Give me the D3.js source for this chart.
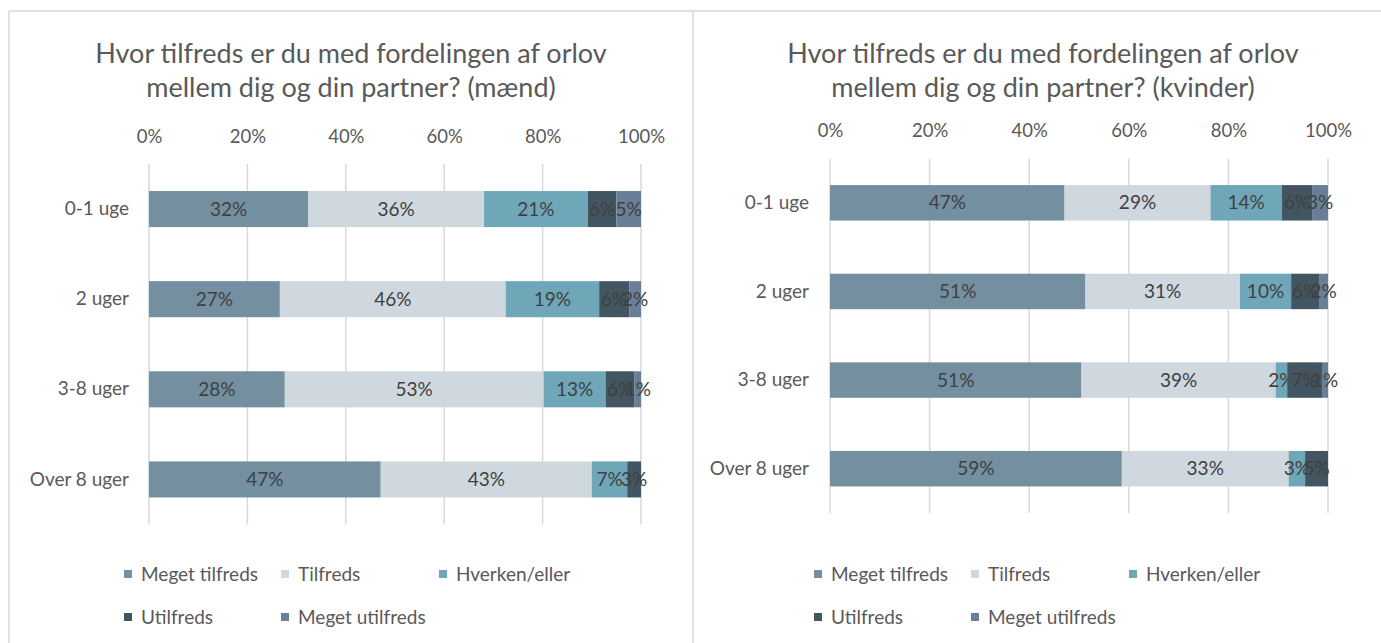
<!DOCTYPE html>
<html>
<head>
<meta charset="utf-8">
<script src="https://cdn.jsdelivr.net/npm/d3@7"></script>
<style>
  body { margin: 0; background: #fff; }
  svg text { font-family: Lato, "Open Sans", sans-serif; }
</style>
</head>
<body>
<div class="chart"></div>
<script>
/* chart data */
const categories = ["0-1 uge", "2 uger", "3-8 uger", "Over 8 uger"];
const seriesNames = ["Meget tilfreds", "Tilfreds", "Hverken/eller", "Utilfreds", "Meget utilfreds"];
const seriesColors = ["#738fa0", "#d0d8df", "#6fa7b9", "#425561", "#687f97"];
const tickValues = [0, 20, 40, 60, 80, 100];
const tickLabels = ["0%", "20%", "40%", "60%", "80%", "100%"];

// one row per category, one value per series (percent)
const menValues = [
  [32.4, 35.7, 21.1, 5.8, 5.0],
  [26.6, 45.9, 19.0, 6.1, 2.4],
  [27.6, 52.6, 12.6, 5.9, 1.3],
  [47.1, 42.9, 7.2, 2.8, 0]
];
const womenValues = [
  [47.1, 29.3, 14.3, 6.1, 3.2],
  [51.3, 31.0, 10.3, 5.6, 1.8],
  [50.5, 39.0, 2.3, 7.0, 1.2],
  [58.6, 33.5, 3.3, 4.6, 0]
];
const menTitle = ["Hvor tilfreds er du med fordelingen af orlov", "mellem dig og din partner? (mænd)"];
const womenTitle = ["Hvor tilfreds er du med fordelingen af orlov", "mellem dig og din partner? (kvinder)"];

const W = 1381, H = 643;

const svg = d3.select(".chart")
  .append("svg")
  .attr("width", W)
  .attr("height", H);

/* panel frames */
const frame = "#d9d9d9";
svg.append("line").attr("x1", 9).attr("x2", W).attr("y1", 11).attr("y2", 11)
  .attr("stroke", frame).attr("stroke-width", 1.5);
svg.append("line").attr("x1", 9).attr("x2", 9).attr("y1", 11).attr("y2", H)
  .attr("stroke", frame).attr("stroke-width", 1.5);
svg.append("line").attr("x1", 693).attr("x2", 693).attr("y1", 11).attr("y2", H)
  .attr("stroke", frame).attr("stroke-width", 1.5);

const drawPanel = (cfg) => {
  const rows = cfg.values.map((v, i) => {
    const row = { cat: categories[i] };
    seriesNames.forEach((s, j) => row[s] = v[j]);
    return row;
  });
  const stacked = d3.stack().keys(seriesNames)(rows);

  const xScale = d3.scaleLinear().domain([0, 100]).range([cfg.x0, cfg.x1]);
  const yScale = d3.scaleBand().domain(categories).range([cfg.y0, cfg.y1]).paddingInner(0.6).paddingOuter(0.3);

  const g = svg.append("g");

  /* title */
  g.selectAll(".title")
    .data(cfg.title)
    .enter()
    .append("text")
    .attr("x", cfg.titleX)
    .attr("y", (d, i) => cfg.titleY + i * 34)
    .attr("text-anchor", "middle")
    .attr("font-size", "27px")
    .attr("fill", "#595959")
    .text(d => d);

  /* gridlines */
  g.selectAll(".grid")
    .data(tickValues)
    .enter()
    .append("line")
    .attr("x1", d => xScale(d))
    .attr("x2", d => xScale(d))
    .attr("y1", cfg.y0)
    .attr("y2", cfg.y1)
    .attr("stroke", "#d9d9d9")
    .attr("stroke-width", 1.5);

  /* top axis */
  const xAxis = d3.axisTop(xScale)
    .tickValues(tickValues)
    .tickFormat((d, i) => tickLabels[i])
    .tickSize(0)
    .tickPadding(0);
  const ax = g.append("g")
    .attr("transform", "translate(0," + cfg.tickY + ")")
    .call(xAxis);
  ax.select(".domain").remove();
  ax.selectAll("text").attr("font-size", "18.5px").attr("fill", "#595959")
    .attr("font-family", "Lato, sans-serif");

  /* left axis */
  const yAxis = d3.axisLeft(yScale).tickSize(0).tickPadding(0);
  const ay = g.append("g")
    .attr("transform", "translate(" + cfg.labelX + ",0)")
    .call(yAxis);
  ay.select(".domain").remove();
  ay.selectAll("text").attr("font-size", "19px").attr("fill", "#595959")
    .attr("font-family", "Lato, sans-serif");

  /* bars */
  const layer = g.selectAll(".layer")
    .data(stacked)
    .enter()
    .append("g")
    .attr("fill", (d, i) => seriesColors[i]);

  layer.selectAll("rect")
    .data(d => d)
    .enter()
    .append("rect")
    .attr("x", d => xScale(d[0]))
    .attr("y", d => yScale(d.data.cat))
    .attr("width", d => xScale(d[1]) - xScale(d[0]))
    .attr("height", yScale.bandwidth());

  /* data labels */
  layer.selectAll("text")
    .data(d => d.filter(p => p[1] - p[0] > 0))
    .enter()
    .append("text")
    .attr("x", d => (xScale(d[0]) + xScale(d[1])) / 2)
    .attr("y", d => yScale(d.data.cat) + yScale.bandwidth() / 2)
    .attr("dy", "0.35em")
    .attr("text-anchor", "middle")
    .attr("font-size", "19px")
    .attr("fill", "#404040")
    .text(d => Math.round(d[1] - d[0]) + "%");

  /* legend */
  const legendPos = [[0, 0], [157, 0], [315, 0], [0, 43], [157, 43]];
  const lg = g.selectAll(".legend")
    .data(seriesNames)
    .enter()
    .append("g")
    .attr("transform", (d, i) => "translate(" + (cfg.legendX + legendPos[i][0]) + "," + (cfg.legendY + legendPos[i][1]) + ")");
  lg.append("rect")
    .attr("x", 0).attr("y", -4)
    .attr("width", 8).attr("height", 8)
    .attr("fill", (d, i) => seriesColors[i]);
  lg.append("text")
    .attr("x", 17)
    .attr("dy", "0.35em")
    .attr("font-size", "19px")
    .attr("fill", "#595959")
    .text(d => d);
};

drawPanel({
  values: menValues, title: menTitle,
  x0: 149, x1: 641, y0: 164, y1: 524.5,
  titleX: 351, titleY: 63, tickY: 143, labelX: 129,
  legendX: 124, legendY: 574
});

drawPanel({
  values: womenValues, title: womenTitle,
  x0: 830, x1: 1328, y0: 158.5, y1: 513,
  titleX: 1043, titleY: 63, tickY: 137, labelX: 809,
  legendX: 814, legendY: 574
});
</script>
</body>
</html>
